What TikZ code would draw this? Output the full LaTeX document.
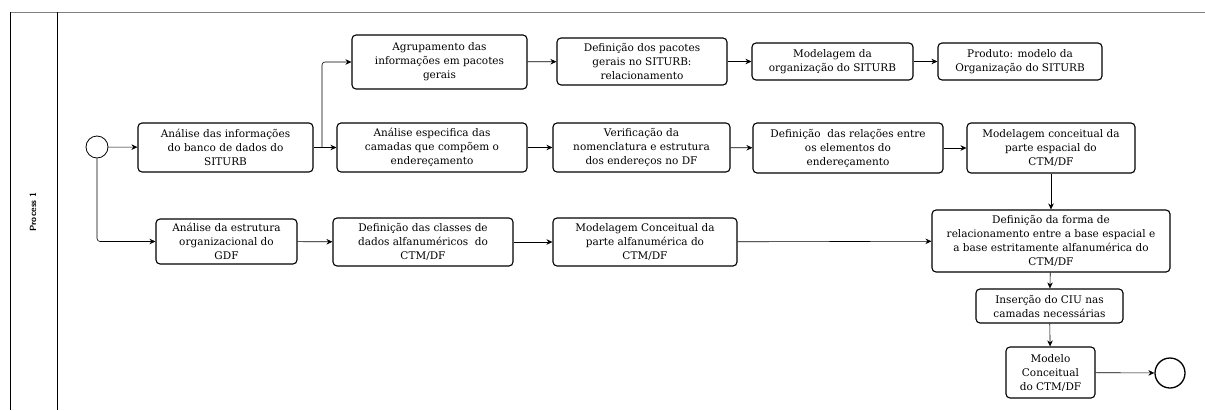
\documentclass[tikz,border=0pt]{standalone}
\usepackage{fontspec}
\setmainfont{DejaVu Serif}
\usetikzlibrary{arrows.meta}

\begin{document}
\begin{tikzpicture}[x=1pt,y=-1pt,
    etapa/.style={draw, line width=1.1pt, rounded corners=4pt, align=center,
      inner sep=1pt, font=\fontsize{10.5}{14}\selectfont},
    fluxo/.style={-{Stealth[length=6pt,width=5.5pt]}, line width=0.6pt},
    evento/.style={draw, circle, inner sep=0pt}]
    \useasboundingbox (0,0) rectangle (1205,410);

    % raia
    \draw[gray, line width=1pt] (10,12) -- (1205,12);
    \draw[line width=0.7pt] (10,12) -- (10,410);
    \draw[line width=0.7pt] (57,12) -- (57,410);
    \node[rotate=90, font=\sffamily\bfseries\fontsize{9}{10}\selectfont] (raia) at (33,212) {Process 1};

    % eventos
    \node[evento, line width=0.8pt, minimum size=22pt] (inicio) at (97,147) {};
    \node[evento, line width=1.3pt, minimum size=30pt] (fim) at (1170,373) {};

    % etapas
    \node[etapa, minimum width=175pt, minimum height=49pt] (analise) at (225.5,147.5)
        {Análise das informações\\do banco de dados do\\SITURB};
    \node[etapa, minimum width=141pt, minimum height=45pt] (estrutura) at (226.5,241.5)
        {Análise da estrutura\\organizacional do\\GDF};
    \node[etapa, minimum width=175pt, minimum height=54pt] (agrup) at (439.5,62)
        {Agrupamento das\\informações em pacotes\\gerais};
    \node[etapa, minimum width=170pt, minimum height=47pt] (pacotes) at (642,61.5)
        {Definição dos pacotes\\gerais no SITURB:\\relacionamento};
    \node[etapa, minimum width=161pt, minimum height=37pt] (modorg) at (832.5,61.5)
        {Modelagem da\\organização do SITURB};
    \node[etapa, minimum width=164pt, minimum height=37pt] (produto) at (1020,61.5)
        {Produto: modelo da\\Organização do SITURB};
    \node[etapa, minimum width=190pt, minimum height=49pt] (especifica) at (432,147.5)
        {Análise especifica das\\camadas que compõem o\\endereçamento};
    \node[etapa, minimum width=177pt, minimum height=49pt] (verif) at (641.5,147.5)
        {Verificação da\\nomenclatura e estrutura\\dos endereços no DF};
    \node[etapa, minimum width=190pt, minimum height=50pt] (relacoes) at (848,148)
        {Definição\ \ das relações entre\\os elementos do\\endereçamento};
    \node[etapa, minimum width=168pt, minimum height=50pt] (espacial) at (1051,148)
        {Modelagem conceitual da\\parte espacial do\\CTM/DF};
    \node[etapa, minimum width=180pt, minimum height=48pt] (classes) at (423,242)
        {Definição das classes de\\dados alfanuméricos\ \ do\\CTM/DF};
    \node[etapa, minimum width=184pt, minimum height=48pt] (alfa) at (645,242)
        {Modelagem Conceitual da\\parte alfanumérica do\\CTM/DF};
    \node[etapa, minimum width=238pt, minimum height=62pt] (forma) at (1051,241)
        {Definição da forma de\\relacionamento entre a base espacial e\\a base estritamente alfanumérica do\\CTM/DF};
    \node[etapa, minimum width=147pt, minimum height=34pt] (insercao) at (1049.5,306)
        {Inserção do CIU nas\\camadas necessárias};
    \node[etapa, minimum width=89pt, minimum height=51pt] (modelo) at (1050.5,372.5)
        {Modelo\\Conceitual\\do CTM/DF};

    % fluxos
    \coordinate (divide) at (322,147.5);
    \draw[fluxo] (inicio) -- (analise);
    \draw[fluxo, rounded corners=3pt] (inicio.south) |- (estrutura);
    \draw[line width=1pt] (analise) -- (divide);
    \draw[fluxo, rounded corners=3pt] (divide) |- (agrup);
    \draw[fluxo] (divide) -- (especifica);
    \foreach \a/\b in {agrup/pacotes, pacotes/modorg, modorg/produto,
        especifica/verif, verif/relacoes, relacoes/espacial, espacial/forma,
        estrutura/classes, classes/alfa, alfa/forma,
        forma/insercao, insercao/modelo, modelo/fim}
        \draw[fluxo] (\a) -- (\b);
\end{tikzpicture}
\end{document}
